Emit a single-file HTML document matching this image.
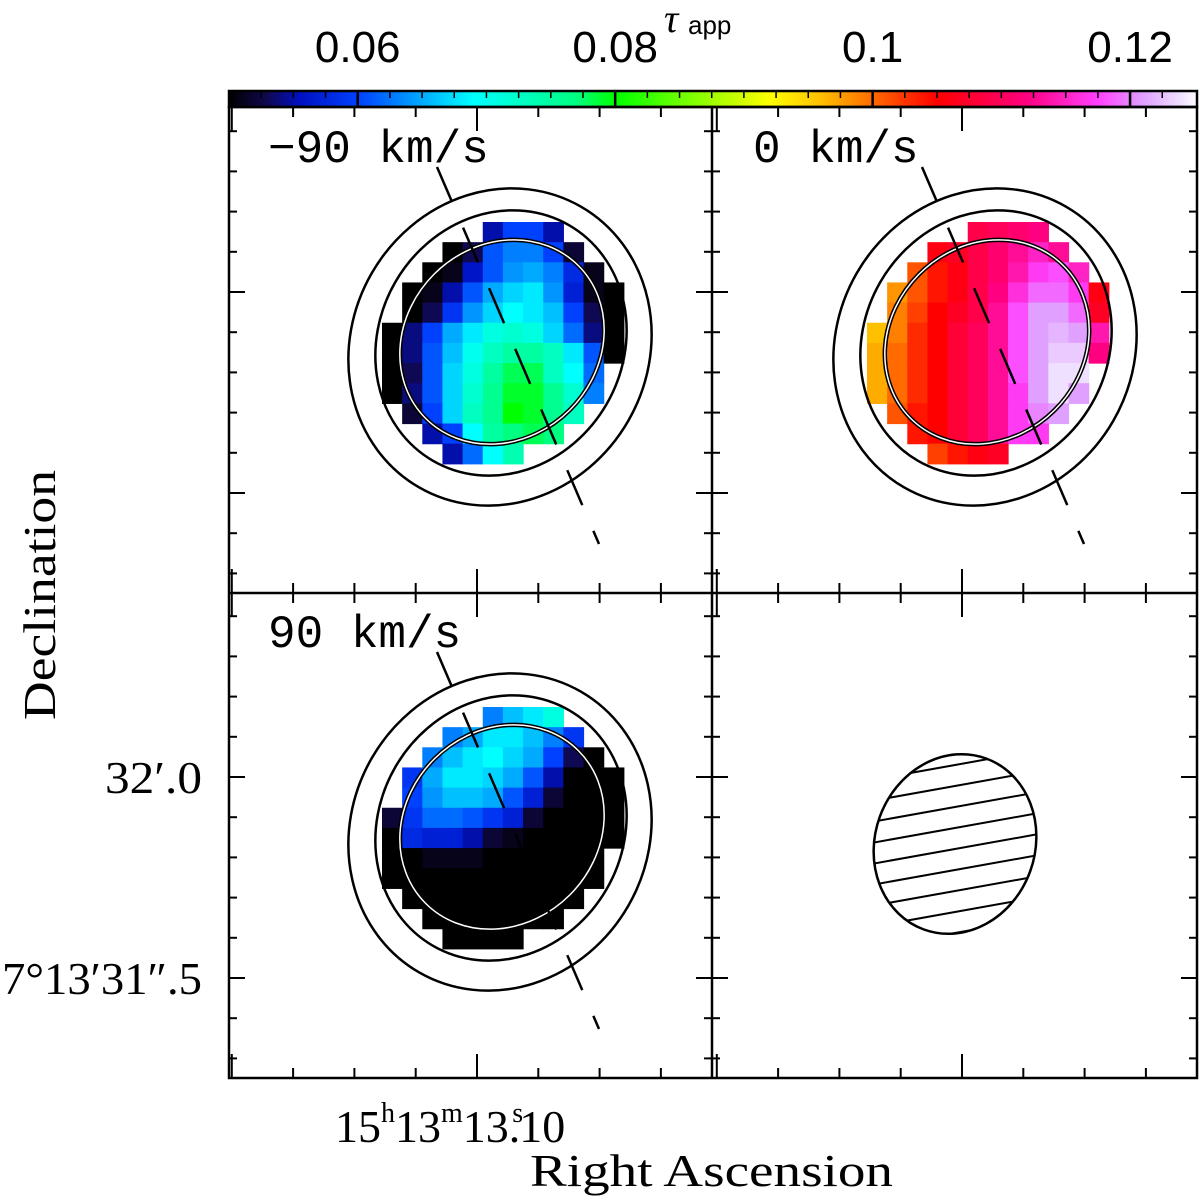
<!DOCTYPE html>
<html><head><meta charset="utf-8">
<style>
html,body{margin:0;padding:0;background:#fff;}
svg{display:block;}
text{font-family:"Liberation Serif",serif;fill:#000;}
</style></head>
<body>
<svg id="fig" width="1200" height="1196" viewBox="0 0 1200 1196" xmlns="http://www.w3.org/2000/svg">
<defs>
<linearGradient id="cbgrad" x1="0" x2="1" y1="0" y2="0"></linearGradient>
<clipPath id="beamclip"><ellipse cx="955" cy="844" rx="80" ry="91" transform="rotate(20 955 844)"/></clipPath>
</defs>
<g id="maps"></g>
<g id="overlay"></g>
<g id="axes"></g>
</svg>
<script>
// ---- data ----
const cbTicks = [0.06, 0.08, 0.1, 0.12];
const cbTickLabels = ["0.06", "0.08", "0.1", "0.12"];
const cmapVals = [0.050, 0.0528, 0.0555, 0.060, 0.063, 0.066, 0.069, 0.073, 0.077, 0.080, 0.092, 0.096, 0.099, 0.105, 0.112, 0.1175, 0.121, 0.124, 0.1252];
const cmapCols = ["#000000","#10084a","#0010c0","#0040ff","#0080ff","#00c0ff","#00ffff","#00ffc0","#00ff80","#00ff00","#ffff00","#ffc000","#ff8000","#ff0000","#ff0080","#ff40ff","#e0a0ff","#f0e0ff","#ffffff"];
const panelLabels = ["\u221290 km/s", "0 km/s", "90 km/s"];
const n = null;
const mapNeg90 = [
[n,n,n,n,n,.055,.060,.060,.055,n,n,n],
[n,n,n,.050,.053,.061,.063,.063,.060,.052,n,n],
[n,n,.050,.051,.056,.061,.064,.065,.063,.058,.051,n],
[n,.050,.051,.055,.061,.065,.067,.068,.064,.057,.051,.050],
[n,.050,.053,.059,.064,.067,.069,.068,.066,.060,.053,.050],
[.050,.054,.060,.065,.068,.071,.072,.071,.067,.062,.054,.050],
[.050,.054,.061,.066,.070,.073,.075,.075,.073,.068,.061,.050],
[.050,.053,.061,.067,.071,.075,.078,.078,.073,.069,.062,n],
[.050,.054,.061,.067,.072,.076,.079,.079,.076,.072,.063,n],
[n,.052,.060,.067,.073,.076,.080,.079,.076,.073,n,n],
[n,n,.055,.060,.069,.075,.077,.078,.077,n,n,n],
[n,n,n,.055,.062,.069,.074,n,n,n,n,n]];
const map0 = [
[n,n,n,n,n,.109,.110,.111,.112,n,n,n],
[n,n,n,.106,.107,.109,.111,.113,.115,.113,n,n],
[n,n,.101,.104,.106,.109,.111,.114,.117,.118,.115,n],
[n,.098,.101,.104,.106,.109,.112,.116,.119,.119,.117,.106],
[n,.099,.102,.105,.107,.109,.113,.118,.121,.121,.119,.107],
[.096,.099,.103,.105,.108,.110,.113,.118,.121,.122,.121,.114,.110].slice(0,12),
[.097,.100,.103,.105,.108,.110,.113,.118,.121,.123,.123,.112],
[.097,.100,.103,.105,.108,.110,.113,.118,.121,.124,.124,n],
[.097,.100,.103,.105,.108,.110,.113,.117,.121,.124,.121,n],
[n,.101,.104,.105,.108,.110,.113,.117,.120,.121,n,n],
[n,n,.104,.105,.108,.110,.113,.117,.117,n,n,n],
[n,n,n,.102,.104,.106,.107,n,n,n,n,n]];
const map90 = [
[n,n,n,n,n,.063,.066,.068,.071,n,n,n],
[n,n,n,.063,.065,.068,.068,.066,.063,.059,n,n],
[n,n,.063,.066,.068,.069,.067,.065,.060,.053,.050,n],
[n,.059,.065,.068,.068,.067,.065,.061,.055,.050,.050,.050],
[n,.060,.064,.066,.066,.065,.061,.057,.052,.050,.050,.050],
[.052,.059,.062,.062,.061,.059,.057,.052,.050,.050,.050,.050],
[.050,.058,.057,.057,.055,.052,.051,.050,.050,.050,.050,.050],
[.050,.050,.051,.051,.051,.050,.050,.050,.050,.050,.050,n],
[.050,.050,.050,.050,.050,.050,.050,.050,.050,.050,.050,n],
[n,.050,.050,.050,.050,.050,.050,.050,.050,.050,n,n],
[n,n,.050,.050,.050,.050,.050,.050,.050,n,n,n],
[n,n,n,.050,.050,.050,.050,n,n,n,n,n]];

// ---- geometry ----
const NS="http://www.w3.org/2000/svg";
const X0=229, X1=1197, XM=712, Y0=107, YM=593, Y1=1078;
const CB_Y=91, CB_H=16, VMIN=0.05, VMAX=0.1252;
const cell=20.15, gx=382, gy=222, DX=485, DY=485;
function mk(tag, attrs, parent){const e=document.createElementNS(NS,tag);for(const k in attrs)e.setAttribute(k,attrs[k]);parent.appendChild(e);return e;}
function cbX(v){return X0+(v-VMIN)/(VMAX-VMIN)*(X1-X0);}
function hex(c){return [parseInt(c.slice(1,3),16),parseInt(c.slice(3,5),16),parseInt(c.slice(5,7),16)];}
function cmap(v){
  if(v<=cmapVals[0])return cmapCols[0];
  for(let i=1;i<cmapVals.length;i++){
    if(v<=cmapVals[i]){const t=(v-cmapVals[i-1])/(cmapVals[i]-cmapVals[i-1]);
      const a=hex(cmapCols[i-1]),b=hex(cmapCols[i]);
      return "rgb("+a.map((x,j)=>Math.round(x+(b[j]-x)*t)).join(",")+")";}
  }
  return cmapCols[cmapCols.length-1];
}
const svg=document.getElementById('fig');
const gMaps=document.getElementById('maps'), gOv=document.getElementById('overlay'), gAx=document.getElementById('axes');

// gradient
const grad=document.getElementById('cbgrad');
cmapVals.forEach((v,i)=>{mk('stop',{offset:((v-VMIN)/(VMAX-VMIN)),'stop-color':cmapCols[i]},grad);});

// maps
const maps=[[mapNeg90,0,0,'map-minus-90'],[map0,DX,0,'map-0'],[map90,0,DY,'map-plus-90']];
maps.forEach(([m,ox,oy,name])=>{
  const g=mk('g',{},gMaps);
  
  
  m.forEach((row,r)=>row.forEach((v,c)=>{
    if(v===null)return;
    const px=mk('rect',{x:(gx+ox+c*cell).toFixed(2),y:(gy+oy+r*cell).toFixed(2),width:cell+0.6,height:cell+0.6,fill:cmap(v)},g);
    
    
  }));
});

// contours & dashed lines in 3 panels
[[0,0],[DX,0],[0,DY]].forEach(([ox,oy],i)=>{
  const g=mk('g',{transform:`translate(${ox},${oy})`},gOv);
  
  
  mk('ellipse',{cx:500,cy:347,rx:162,ry:148,transform:'rotate(-60 500 347)',fill:'none',stroke:'#000','stroke-width':2.5},g);
  mk('ellipse',{cx:501,cy:343,rx:136,ry:122,transform:'rotate(-60 501 343)',fill:'none',stroke:'#000','stroke-width':2.5},g);
  mk('ellipse',{cx:502,cy:342,rx:108,ry:96,transform:'rotate(-45 502 342)',fill:'none',stroke:'#000','stroke-width':4.5},g);
  mk('ellipse',{cx:502,cy:342,rx:108,ry:96,transform:'rotate(-45 502 342)',fill:'none',stroke:'#fff','stroke-width':1.5},g);
  const ln=mk('line',{x1:437,y1:167,x2:599,y2:544,stroke:'#000','stroke-width':2.5,'stroke-dasharray':'38 28'},g);
  
  
  const t=mk('text',{x:268,y:162,'font-size':46,style:'font-family:"Liberation Mono",monospace'},gOv);
  t.setAttribute('transform',`translate(${ox},${oy})`);
  t.textContent=panelLabels[i];
  
  
});

// beam
const beam=mk('g',{},gOv);


const hg=mk('g',{'clip-path':'url(#beamclip)'},beam);
for(let k=-5;k<=5;k++){mk('line',{x1:860,y1:(849+k*21+17).toFixed(1),x2:1050,y2:(849+k*21-17).toFixed(1),stroke:'#000','stroke-width':2},hg);}
mk('ellipse',{cx:955,cy:844,rx:80,ry:91,transform:'rotate(20 955 844)',fill:'none',stroke:'#000','stroke-width':2.5},beam);

// colorbar
const cb=mk('g',{},gAx);


mk('rect',{x:X0,y:CB_Y,width:X1-X0,height:CB_H,fill:'url(#cbgrad)',stroke:'#000','stroke-width':2.5},cb);
for(let v=0.0525;v<0.125;v+=0.0025){
  const x=cbX(v); const major=Math.abs((v*1000)%20)<0.01||Math.abs((v*1000)%20-20)<0.01;
  mk('line',{x1:x,x2:x,y1:CB_Y,y2:major?CB_Y+CB_H:CB_Y+7,stroke:'#000','stroke-width':major?2.5:1.5},cb);
}
cbTicks.forEach((v,i)=>{
  const t=mk('text',{x:cbX(v),y:62,'font-size':44,'text-anchor':'middle',style:'font-family:"Liberation Sans",sans-serif'},cb);
  t.textContent=cbTickLabels[i];
  
  
});
const tau=mk('text',{x:664,y:32,'font-size':40,'font-style':'italic'},cb);
tau.textContent="τ";


const app=mk('text',{x:688,y:34,'font-size':26,style:'font-family:"Liberation Sans",sans-serif'},cb);
app.textContent="app";



// frames
const fr=mk('g',{fill:'none',stroke:'#000','stroke-width':2.5},gAx);


mk('rect',{x:X0,y:Y0,width:X1-X0,height:Y1-Y0},fr);
mk('line',{x1:XM,x2:XM,y1:Y0,y2:Y1},fr);
mk('line',{x1:X0,x2:X1,y1:YM,y2:YM},fr);

// ticks
const tk=mk('g',{stroke:'#000','stroke-width':2},gAx);


const yMajor=777, ySp=40.2, xMajor=477, xSp=61.3;
[[Y0,YM,-DY],[YM,Y1,0]].forEach(([ya,yb,off])=>{
  for(let k=-12;k<=12;k++){
    const y=yMajor+off+k*ySp; if(y<=ya+4||y>=yb-4)continue;
    const L=(k%5===0)?16:8;
    [[X0,1],[XM,-1],[XM,1],[X1,-1]].forEach(([x,d])=>mk('line',{x1:x,x2:x+d*L,y1:y,y2:y},tk));
  }
});
[[X0,XM,0],[XM,X1,DX]].forEach(([xa,xb,off])=>{
  for(let k=-8;k<=8;k++){
    const x=xMajor+off+k*xSp; if(x<=xa+1||x>=xb-1)continue;
    const L=(k%4===0)?24:10;
    [[Y0,1],[YM,-1],[YM,1],[Y1,-1]].forEach(([y,d])=>mk('line',{x1:x,x2:x,y1:y,y2:y+d*L},tk));
  }
});

// axis labels
function txt(s,attrs,name){const t=mk('text',attrs,gAx);t.textContent=s;return t;}
txt("32′.0",{x:105,y:793,'font-size':46,textLength:97,lengthAdjust:'spacingAndGlyphs'},'y-tick-label');
txt("7°13′31″.5",{x:2,y:994,'font-size':46,textLength:200,lengthAdjust:'spacingAndGlyphs'},'y-tick-label');
txt("Declination",{x:-720,y:55,'font-size':46,textLength:250,lengthAdjust:'spacingAndGlyphs',transform:'rotate(-90)'},'y-axis-title');
const ra=mk('text',{x:335,y:1142,'font-size':46},gAx);


ra.innerHTML='15<tspan dy="-20" font-size="28">h</tspan><tspan dy="20">13</tspan><tspan dy="-20" font-size="28">m</tspan><tspan dy="20">13.</tspan><tspan dy="-20" dx="-8" font-size="28">s</tspan><tspan dy="20" dx="-4">10</tspan>';
txt("Right Ascension",{x:530,y:1186,'font-size':46,textLength:363,lengthAdjust:'spacingAndGlyphs'},'x-axis-title');
</script>
</body></html>
